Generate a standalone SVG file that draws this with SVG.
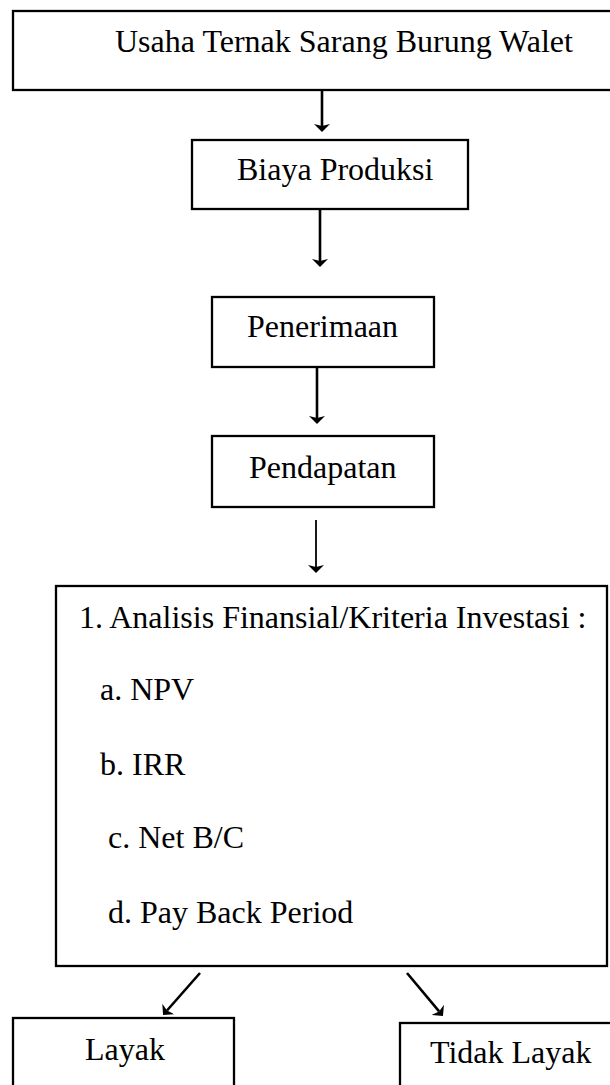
<svg xmlns="http://www.w3.org/2000/svg" width="610" height="1085" viewBox="0 0 610 1085">
<style>
.box{fill:#fff;stroke:#000;stroke-width:2.3}
.t{font-family:"Liberation Serif","Times New Roman",serif;font-size:32px;fill:#000}
.c{stroke:#000;stroke-width:2.6;fill:none;marker-end:url(#ah)}
.thin{stroke-width:1.8}
</style>
<defs>
<marker id="ah" viewBox="0 0 8 16" markerWidth="8" markerHeight="16" markerUnits="userSpaceOnUse" refX="2" refY="8" orient="auto">
<path d="M0,0 L8,8 L0,16 L2,8 Z" fill="#000"/>
</marker>
</defs>
<rect width="610" height="1085" fill="#fff"/>
<g id="connectors">
<line class="c" x1="322" y1="91" x2="322" y2="126"/>
<line class="c" x1="320" y1="210" x2="320" y2="261"/>
<line class="c" x1="317" y1="368" x2="317" y2="418"/>
<line class="c thin" x1="316" y1="520" x2="316" y2="567"/>
<line class="c" x1="200" y1="973" x2="167" y2="1010.5"/>
<line class="c" x1="407" y1="973" x2="439.1" y2="1011.4"/>
</g>
<g id="n-usaha">
<rect class="box" x="13" y="11" width="600" height="79"/>
<text class="t" x="115" y="52">Usaha Ternak Sarang Burung Walet</text>
</g>
<g id="n-biaya">
<rect class="box" x="192" y="140" width="276" height="69"/>
<text class="t" x="237" y="180">Biaya Produksi</text>
</g>
<g id="n-penerimaan">
<rect class="box" x="212" y="297" width="222" height="70"/>
<text class="t" x="247" y="337">Penerimaan</text>
</g>
<g id="n-pendapatan">
<rect class="box" x="212" y="436" width="222" height="71"/>
<text class="t" x="249" y="478">Pendapatan</text>
</g>
<g id="n-analisis">
<rect class="box" x="56" y="586" width="551" height="380"/>
<text class="t" x="79" y="628">1. Analisis Finansial/Kriteria Investasi :</text>
<text class="t" x="100" y="700">a. NPV</text>
<text class="t" x="100" y="775">b. IRR</text>
<text class="t" x="108" y="848">c. Net B/C</text>
<text class="t" x="108" y="923">d. Pay Back Period</text>
</g>
<g id="n-layak">
<rect class="box" x="13" y="1018" width="221" height="80"/>
<text class="t" x="85" y="1060">Layak</text>
</g>
<g id="n-tidak">
<rect class="box" x="400" y="1023" width="220" height="80"/>
<text class="t" x="430" y="1063">Tidak Layak</text>
</g>
</svg>
